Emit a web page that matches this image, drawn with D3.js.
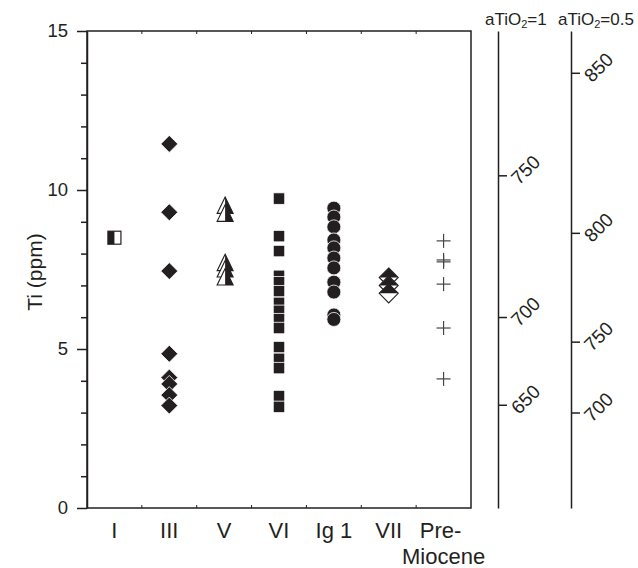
<!DOCTYPE html>
<html>
<head>
<meta charset="utf-8">
<script src="https://cdn.jsdelivr.net/npm/d3@7"></script>
<style>
body { margin: 0; background: #fff; }
text { font-family: "Liberation Sans", Arial, sans-serif; fill: #231f20; }
</style>
</head>
<body>
<svg id="chart" width="638" height="568"></svg>
<script>
// data (Ti in ppm)
var categories = ["I", "III", "V", "VI", "Ig 1", "VII", "Pre-Miocene"];
var tiI = [8.5];
var tiIII = [11.45, 9.3, 7.45, 4.85, 4.1, 3.9, 3.55, 3.22];
var tiV = [9.5, 9.25, 7.7, 7.5, 7.25];
var tiVI = [9.73, 8.55, 8.08, 7.3, 7.1, 6.82, 6.45, 6.2, 5.94, 5.66, 5.06, 4.69, 4.4, 3.52, 3.18];
var tiIg1 = [9.43, 9.15, 8.84, 8.43, 8.18, 7.86, 7.55, 7.1, 6.79, 6.07, 5.93];
var tiVII = [7.25, 7.0, 6.75];
var tiPreMiocene = [8.4, 7.8, 7.74, 7.04, 5.66, 4.06];
var yTicks = [0, 5, 10, 15];
var tempsA1 = [650, 700, 750];
var tempsA05 = [700, 750, 800, 850];

var ink = "#231f20";
var svg = d3.select("#chart");

var x = d3.scaleBand().domain(categories).range([87, 471]).padding(0);
var y = d3.scaleLinear().domain([0, 15]).range([508, 31]);
var cx = function(c) { return x(c) + x.bandwidth() / 2; };

// Ti-in-zircon thermometer (aSiO2 = 1): T in degC -> Ti ppm
var tiAt = function(t, aTiO2) {
	return Math.pow(10, 5.711 - 4800 / (t + 273.15) + Math.log10(aTiO2));
};

// left axis, major + minor ticks
var yAxis = svg.append("g")
	.attr("transform", "translate(87,0)")
	.call(d3.axisLeft(y).tickValues(yTicks).tickSize(10).tickPadding(9).tickSizeOuter(0));
yAxis.selectAll("text").style("font-size", "18.5px").attr("fill", ink);

var minor = d3.range(0, 16).filter(function(d) { return d % 5 != 0; });
svg.append("g")
	.attr("transform", "translate(87,0)")
	.call(d3.axisLeft(y).tickValues(minor).tickSize(6).tickFormat("").tickSizeOuter(0))
	.select(".domain").remove();

svg.selectAll(".tick line, .domain").attr("stroke", ink).attr("stroke-width", 1.5);

// frame
svg.append("rect")
	.attr("x", 87).attr("y", 31).attr("width", 471 - 87).attr("height", 508 - 31)
	.attr("fill", "none").attr("stroke", ink).attr("stroke-width", 1.5);

// small ticks between categories
var bounds = categories.slice(1);
svg.selectAll(".btick").data(bounds).enter().append("line")
	.attr("x1", function(d) { return x(d); }).attr("x2", function(d) { return x(d); })
	.attr("y1", 508).attr("y2", 505).attr("stroke", ink).attr("stroke-width", 1);
svg.selectAll(".ttick").data(bounds).enter().append("line")
	.attr("x1", function(d) { return x(d); }).attr("x2", function(d) { return x(d); })
	.attr("y1", 31).attr("y2", 34).attr("stroke", ink).attr("stroke-width", 1);

// category labels
var xAxis = svg.append("g")
	.attr("transform", "translate(0,508)")
	.call(d3.axisBottom(x).tickSize(0).tickPadding(14));
xAxis.select(".domain").remove();
xAxis.selectAll("text").style("font-size", "22px").attr("fill", ink)
	.each(function(d) {
		if (d == "Pre-Miocene") {
			var t = d3.select(this).text("");
			t.append("tspan").attr("x", -3).text("Pre-");
			t.append("tspan").attr("x", 0).attr("dy", 26).text("Miocene");
		}
	});

// y title
svg.append("text")
	.attr("transform", "translate(42,272) rotate(-90)")
	.attr("text-anchor", "middle")
	.style("font-size", "21px")
	.text("Ti (ppm)");

// marker paths
var diamond = function(r) {
	return "M0," + (-r) + "L" + r + ",0L0," + r + "L" + (-r) + ",0Z";
};
var g = svg.append("g");

// I : half filled square
tiI.forEach(function(v) {
	var m = g.append("g").attr("transform", "translate(" + cx("I") + "," + y(v) + ")");
	m.append("rect").attr("x", -6.5).attr("y", -6.5).attr("width", 13).attr("height", 13)
		.attr("fill", "#fff").attr("stroke", ink).attr("stroke-width", 1.2);
	m.append("rect").attr("x", -6.5).attr("y", -6.5).attr("width", 6.5).attr("height", 13)
		.attr("fill", ink);
});

// III : filled diamonds
g.selectAll(".d3").data(tiIII).enter().append("path")
	.attr("transform", function(d) { return "translate(" + cx("III") + "," + y(d) + ")"; })
	.attr("d", diamond(8.5))
	.attr("fill", ink).attr("stroke", "#fff").attr("stroke-width", 0.8);

// V : half filled triangles
tiV.forEach(function(v) {
	var m = g.append("g").attr("transform", "translate(" + (cx("V") + 1) + "," + y(v) + ")");
	m.append("path").attr("d", "M0,-9L8,7.5L-8,7.5Z")
		.attr("fill", "#fff").attr("stroke", ink).attr("stroke-width", 1.1);
	m.append("path").attr("d", "M0,-9L8,7.5L0,7.5Z").attr("fill", ink);
});

// VI : filled squares
g.selectAll(".s6").data(tiVI).enter().append("rect")
	.attr("x", cx("VI") - 5.75).attr("y", function(d) { return y(d) - 5.75; })
	.attr("width", 11.5).attr("height", 11.5)
	.attr("fill", ink).attr("stroke", "#fff").attr("stroke-width", 0.8);

// Ig 1 : filled circles
g.selectAll(".c").data(tiIg1).enter().append("circle")
	.attr("cx", cx("Ig 1")).attr("cy", function(d) { return y(d); }).attr("r", 7)
	.attr("fill", ink).attr("stroke", "#fff").attr("stroke-width", 0.8);

// VII : half filled diamonds
tiVII.forEach(function(v) {
	var m = g.append("g").attr("transform", "translate(" + cx("VII") + "," + y(v) + ")");
	m.append("path").attr("d", diamond(9.5))
		.attr("fill", "#fff").attr("stroke", ink).attr("stroke-width", 1.1);
	m.append("path").attr("d", "M0,-9.5L9.5,0L-9.5,0Z").attr("fill", ink);
});

// Pre-Miocene : crosses
tiPreMiocene.forEach(function(v) {
	var m = g.append("g").attr("transform", "translate(" + cx("Pre-Miocene") + "," + y(v) + ")")
		.attr("stroke", "#444").attr("stroke-width", 1.2);
	m.append("line").attr("x1", -7).attr("x2", 7);
	m.append("line").attr("y1", -7).attr("y2", 7);
});

// temperature axes
var tempAxis = function(xPos, temps, a, title) {
	var ax = svg.append("g")
		.attr("transform", "translate(" + xPos + ",0)")
		.call(d3.axisRight(y)
			.tickValues(temps.map(function(t) { return tiAt(t, a); }))
			.tickFormat(function(d, i) { return temps[i]; })
			.tickSize(9).tickSizeOuter(0));
	ax.selectAll("line, .domain").attr("stroke", ink).attr("stroke-width", 1.5);
	ax.selectAll("text")
		.attr("x", null).attr("dy", null)
		.attr("text-anchor", "start")
		.attr("transform", "translate(21,10) rotate(-45)")
		.style("font-size", "19px").attr("fill", ink);
	var t = svg.append("text").attr("x", xPos - 13).attr("y", 25).style("font-size", "17px");
	t.append("tspan").text("aTiO");
	t.append("tspan").attr("dy", 3).style("font-size", "11px").text("2");
	t.append("tspan").attr("dy", -3).text(title);
};
tempAxis(498, tempsA1, 1, "=1");
tempAxis(571, tempsA05, 0.5, "=0.5");
</script>
</body>
</html>
